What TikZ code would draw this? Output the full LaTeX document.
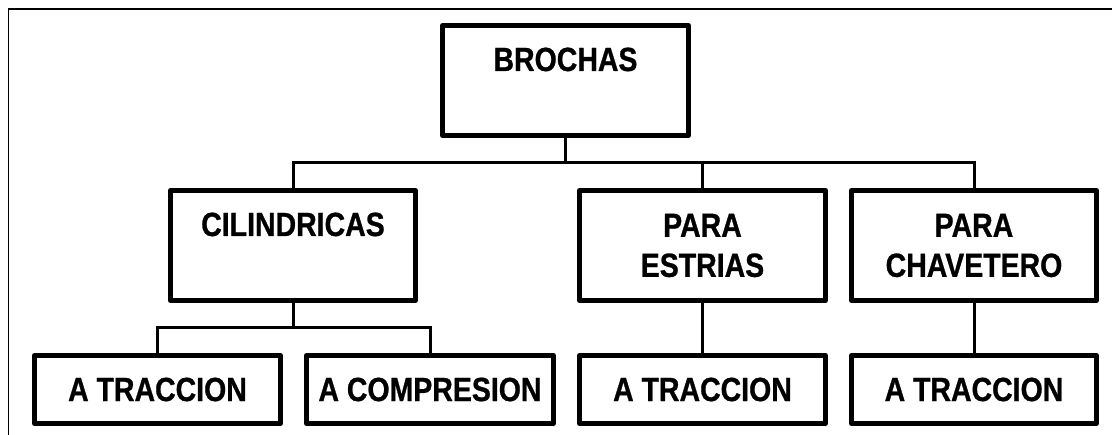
\documentclass[tikz,border=0pt]{standalone}
\usepackage{fontspec}
\newfontfamily\labfont{Liberation Sans}[FakeStretch=0.85,FakeBold=0.8]
\begin{document}
\begin{tikzpicture}[x=1pt,y=-1pt,
  box/.style={draw, line width=5pt, line join=round, inner sep=0pt,
    minimum width=246pt, font=\labfont\bfseries\fontsize{33.5}{40}\selectfont},
  topbox/.style={box, text height=45.5pt, text depth=64.5pt},
  midbox/.style={box, minimum height=110pt, align=center},
  lowbox/.style={box, minimum height=68pt},
  conn/.style={line width=3pt},
  frame/.style={line width=1.8pt}]
\useasboundingbox (0,0) rectangle (1112,435);
% frame (top and left only)
\coordinate (fa) at (8.5,435);
\coordinate (fb) at (8.5,9);
\coordinate (fc) at (1112,9);
\draw[frame] (fa) -- (fb) -- (fc);
% nodes
\node[topbox] (bro) at (565.5,80.5) {BROCHAS};
\node[topbox, minimum width=245pt] (cil) at (293,245.5) {CILINDRICAS};
\node[midbox] (est) at (702.5,245.5) {PARA\\ESTRIAS};
\node[midbox, minimum width=245pt] (cha) at (974,245.5) {PARA\\CHAVETERO};
\node[lowbox] (t1) at (157.5,389.5) {A TRACCION};
\node[lowbox, minimum width=247pt] (cmp) at (430,389.5) {A COMPRESION};
\node[lowbox] (t2) at (702.5,389.5) {A TRACCION};
\node[lowbox, minimum width=245pt] (t3) at (974,389.5) {A TRACCION};
% bus coordinates
\coordinate (busA) at (565.5,163);
\coordinate (busB) at (293,328);
% connectors
\draw[conn] (bro.south) -- (busA);
\draw[conn] (cil.north) -- (cil.north |- busA) -| (cha.north);
\draw[conn] (est.north) -- (est.north |- busA);
\draw[conn] (cil.south) -- (busB);
\draw[conn] (t1.north) -- (t1.north |- busB) -| (cmp.north);
\draw[conn] (est.south) -- (t2.north);
\draw[conn] (cha.south) -- (t3.north);
\end{tikzpicture}
\end{document}
